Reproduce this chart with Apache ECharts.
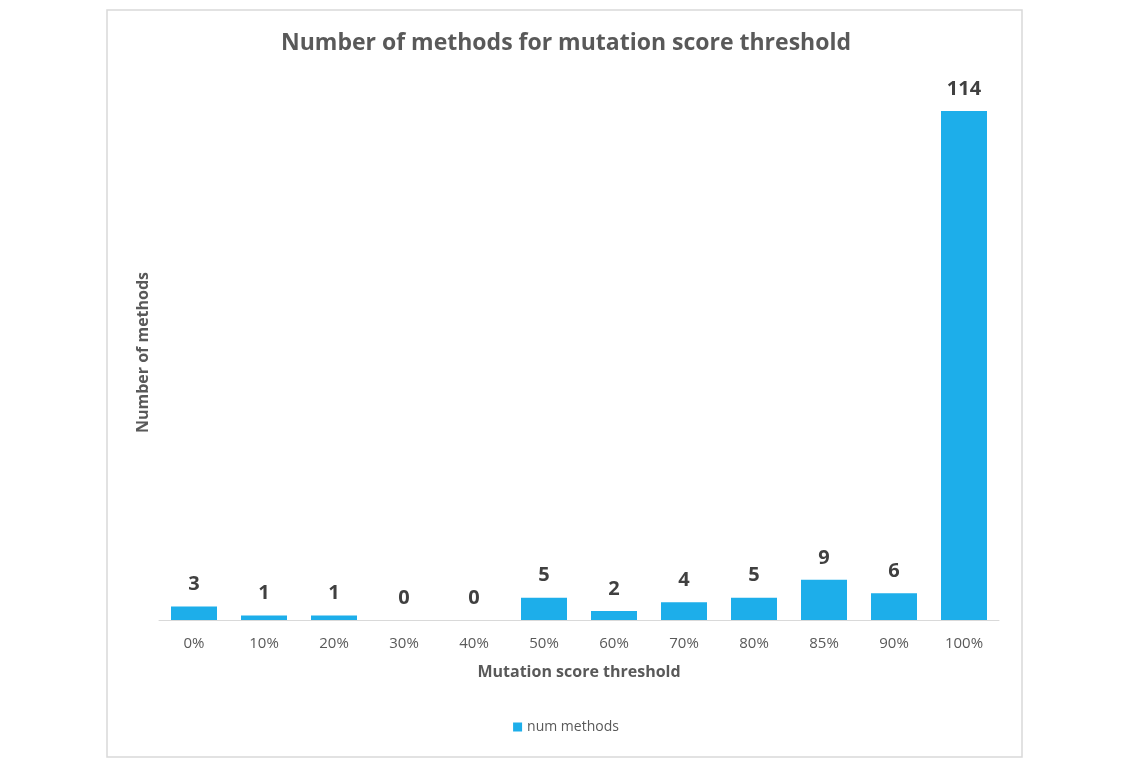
<!DOCTYPE html>
<html>
<head>
<meta charset="utf-8">
<script src="https://cdn.jsdelivr.net/npm/echarts@6/dist/echarts.min.js"></script>
<style>
html,body{margin:0;padding:0;background:#fff;}
#chart{width:1132px;height:770px;}
</style>
</head>
<body>
<div id="chart"></div>
<script>
const categories = ['0%','10%','20%','30%','40%','50%','60%','70%','80%','85%','90%','100%'];
const numMethods = [3,1,1,0,0,5,2,4,5,9,6,114];
const seriesName = 'num methods';
const titleText = 'Number of methods for mutation score threshold';
const xAxisName = 'Mutation score threshold';
const yAxisName = 'Number of methods';

const chart = echarts.init(document.getElementById('chart'));
chart.setOption({
  animation: false,
  backgroundColor: '#fff',
  textStyle: { fontFamily: '"Open Sans", sans-serif' },
  graphic: [{
    type: 'rect',
    shape: { x: 107, y: 10, width: 915, height: 747 },
    style: { fill: 'none', stroke: '#d9d9d9', lineWidth: 1.5 },
    silent: true
  }],
  title: {
    text: titleText,
    left: 'center',
    top: 27,
    textStyle: { fontSize: 23, fontWeight: 'bold', color: '#595959', fontFamily: '"Open Sans", sans-serif' }
  },
  legend: {
    data: [seriesName],
    bottom: 31,
    left: 'center',
    icon: 'rect',
    itemWidth: 9,
    itemHeight: 9,
    itemGap: 6,
    textStyle: { fontSize: 14, color: '#595959' }
  },
  grid: { left: 159, right: 133, top: 111, bottom: 150, containLabel: false },
  xAxis: {
    type: 'category',
    data: categories,
    name: xAxisName,
    nameLocation: 'middle',
    nameGap: 44,
    nameTextStyle: { fontSize: 16, fontWeight: 'bold', color: '#595959' },
    axisLine: { lineStyle: { color: '#d9d9d9', width: 1 } },
    axisTick: { show: false },
    axisLabel: { fontSize: 15, color: '#595959', margin: 16 }
  },
  yAxis: {
    type: 'value',
    min: 0,
    max: 114,
    name: yAxisName,
    nameLocation: 'middle',
    nameGap: 8,
    nameRotate: 90,
    nameTextStyle: { fontSize: 16, fontWeight: 'bold', color: '#595959', padding: [0, 0, 0, 26] },
    axisLine: { show: false },
    axisTick: { show: false },
    axisLabel: { show: false },
    splitLine: { show: false }
  },
  series: [{
    name: seriesName,
    type: 'bar',
    data: numMethods,
    barWidth: 46,
    itemStyle: { color: '#1DAEEA' },
    label: {
      show: true,
      position: 'top',
      distance: 12,
      fontSize: 20,
      fontWeight: 'bold',
      color: '#404040'
    }
  }]
});
</script>
</body>
</html>
